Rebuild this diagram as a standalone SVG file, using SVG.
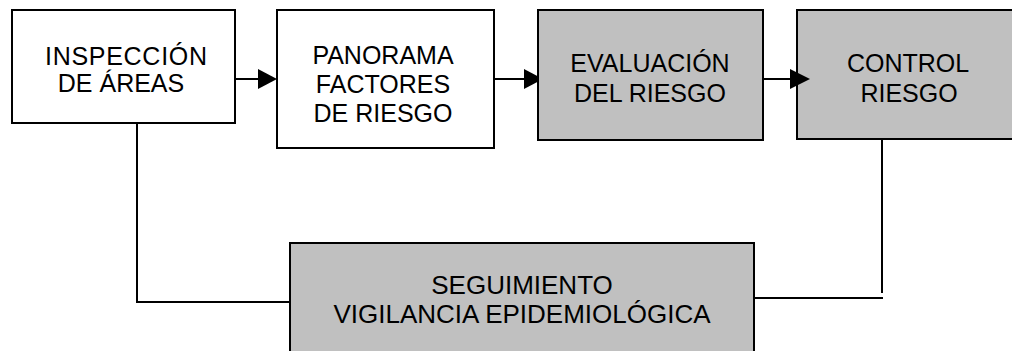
<svg xmlns="http://www.w3.org/2000/svg" width="1012" height="351" viewBox="0 0 1012 351">
<style>
.box{stroke:#000;stroke-width:2}
.w{fill:#fff}
.g{fill:#c0c0c0}
.t{font-family:"Liberation Sans",Arial,sans-serif;font-size:25px;fill:#000;text-anchor:middle}
.tb{font-size:26px}
.c{stroke:#000;stroke-width:2;fill:none}
.ah{fill:#000}
</style>
<rect width="1012" height="351" fill="#fff"/>
<g id="connectors">
<line class="c" x1="229" y1="79" x2="260" y2="79"/>
<polygon class="ah" points="258,69 277,79 258,89"/>
<line class="c" x1="494" y1="79" x2="526" y2="79"/>
<polygon class="ah" points="524,69 543,79 524,89"/>
<line class="c" x1="763" y1="79" x2="792" y2="79"/>
<polyline class="c" points="137,123 137,302 290,302"/>
<polyline class="c" points="882,139 882,293"/>
<line class="c" x1="754" y1="298" x2="883" y2="298"/>
</g>
<g id="inspeccion">
<rect class="box w" x="12" y="10" width="223" height="113"/>
<text class="t" x="126" y="65" textLength="162" lengthAdjust="spacing">INSPECCIÓN</text>
<text class="t" x="121" y="92">DE ÁREAS</text>
</g>
<g id="panorama">
<rect class="box w" x="277" y="10" width="217" height="138"/>
<text class="t" x="383" y="64">PANORAMA</text>
<text class="t" x="383" y="93">FACTORES</text>
<text class="t" x="383" y="122">DE RIESGO</text>
</g>
<g id="evaluacion">
<rect class="box g" x="538" y="10" width="225" height="130"/>
<text class="t" x="650" y="72">EVALUACIÓN</text>
<text class="t" x="650" y="102">DEL RIESGO</text>
</g>
<g id="control">
<rect class="box g" x="797" y="10" width="225" height="129"/>
<text class="t" x="908" y="72">CONTROL</text>
<text class="t" x="909" y="102">RIESGO</text>
</g>
<polygon class="ah" points="790,69 810,79 790,89"/>
<g id="seguimiento">
<rect class="box g" x="290" y="243" width="464" height="120"/>
<text class="t tb" x="522" y="294">SEGUIMIENTO</text>
<text class="t tb" x="522" y="323">VIGILANCIA EPIDEMIOLÓGICA</text>
</g>
</svg>
